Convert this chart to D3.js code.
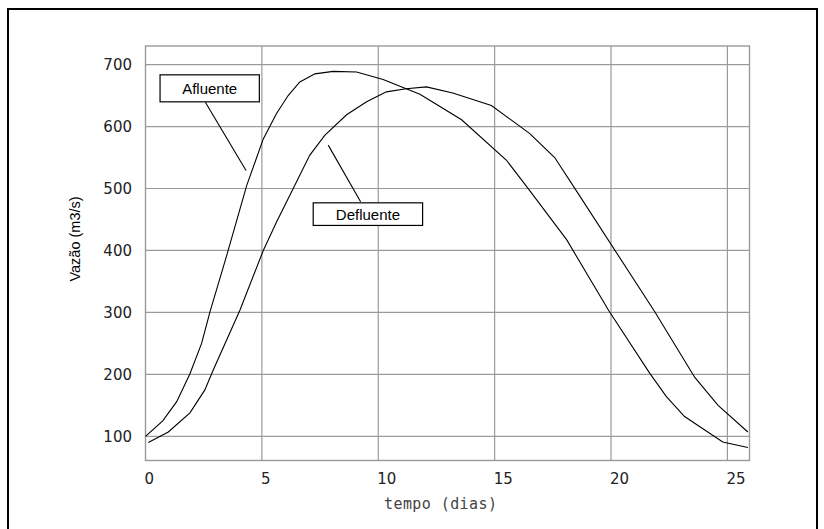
<!DOCTYPE html>
<html lang="pt">
<head>
<meta charset="UTF-8">
<title>Vazão afluente e defluente</title>
<script src="https://d3js.org/d3.v7.min.js"></script>
<style>
  body { margin: 0; background: #fff; }
  .tick-label { font-family: "DejaVu Sans ExtraLight", "DejaVu Sans", sans-serif; font-size: 15px; fill: #222; }
  .axis-title { font-family: "DejaVu Sans Mono", monospace; font-size: 15px; fill: #444; }
  .y-title { font-family: "Liberation Sans", Arial, sans-serif; font-size: 14.5px; fill: #000; }
  .tag { font-family: "Liberation Sans", Arial, sans-serif; font-size: 15px; fill: #000; }
</style>
</head>
<body>
<svg id="chart"></svg>
<script>
// dados (tempo em dias, vazão em m3/s)
var tempoAfluente = [0, 0.74, 1.34, 1.91, 2.41, 2.77, 3.49, 4.35, 5.06, 5.63, 6.13, 6.63, 7.28, 8.06, 9.07, 10.21, 11.2, 11.79, 13.58, 15.5, 16.5, 18.1, 19.9, 21.66, 22.38, 23.16, 24.8, 25.88];
var vazaoAfluente = [100, 125, 156, 201, 250, 301, 392, 505, 580, 621, 650, 672, 685, 689, 688, 676, 661, 652, 611, 546, 497, 417, 303, 202, 164, 132, 91, 82];

var tempoDefluente = [0.12, 0.98, 1.91, 2.55, 2.91, 4.06, 5.06, 5.63, 6.49, 7.06, 7.71, 8.64, 9.5, 10.35, 11.2, 12.07, 13.2, 14.86, 16.5, 17.58, 18.5, 21.88, 23.6, 24.6, 25.88];
var vazaoDefluente = [90, 107, 138, 175, 207, 304, 400, 446, 511, 554, 586, 619, 640, 656, 661, 664, 654, 634, 589, 550, 497, 301, 195, 150, 107];

var xTicks = [0, 5, 10, 15, 20, 25];
var yTicks = [100, 200, 300, 400, 500, 600, 700];

var W = 824, H = 529;
var svg = d3.select("#chart").attr("width", W).attr("height", H);

// moldura externa (a borda de baixo fica fora da imagem)
svg.append("rect")
  .attr("x", 8).attr("y", 9)
  .attr("width", 809).attr("height", 530)
  .attr("fill", "none").attr("stroke", "#000").attr("stroke-width", 2);

var x = d3.scaleLinear().domain([0, 25.95]).range([145.5, 749.5]);
var y = d3.scaleLinear().domain([61, 730]).range([460.5, 46]);

var gridColor = "#9a9a9a";

// grade
svg.selectAll("line.vgrid")
  .data(xTicks.filter(d => d > 0))
  .enter().append("line")
  .attr("x1", d => x(d)).attr("x2", d => x(d))
  .attr("y1", y.range()[1]).attr("y2", y.range()[0])
  .attr("stroke", gridColor).attr("stroke-width", 1.2);

svg.selectAll("line.hgrid")
  .data(yTicks)
  .enter().append("line")
  .attr("x1", x.range()[0]).attr("x2", x.range()[1])
  .attr("y1", d => y(d)).attr("y2", d => y(d))
  .attr("stroke", gridColor).attr("stroke-width", 1.2);

svg.append("rect")
  .attr("x", x.range()[0]).attr("y", y.range()[1])
  .attr("width", x.range()[1] - x.range()[0])
  .attr("height", y.range()[0] - y.range()[1])
  .attr("fill", "none").attr("stroke", gridColor).attr("stroke-width", 1.4);

// rótulos dos eixos
svg.selectAll("text.ylab")
  .data(yTicks)
  .enter().append("text")
  .attr("class", "tick-label")
  .attr("x", 132).attr("y", d => y(d))
  .attr("dy", "0.36em")
  .attr("text-anchor", "end")
  .text(d => d);

svg.selectAll("text.xlab")
  .data(xTicks)
  .enter().append("text")
  .attr("class", "tick-label")
  .attr("x", d => x(d) - 1).attr("y", 484)
  .text(d => d);

svg.append("text")
  .attr("class", "axis-title")
  .attr("x", 384).attr("y", 509)
  .attr("textLength", 113)
  .text("tempo (dias)");

svg.append("text")
  .attr("class", "y-title")
  .attr("transform", "translate(80,239) rotate(-90)")
  .attr("text-anchor", "middle")
  .text("Vazão (m3/s)");

// curvas
var line = d3.line().x(d => x(d[0])).y(d => y(d[1]));

var series = [
  { nome: "Afluente", pts: d3.zip(tempoAfluente, vazaoAfluente) },
  { nome: "Defluente", pts: d3.zip(tempoDefluente, vazaoDefluente) }
];

svg.selectAll("path.curva")
  .data(series)
  .enter().append("path")
  .attr("d", d => line(d.pts))
  .attr("fill", "none").attr("stroke", "#000").attr("stroke-width", 1.1);

// etiquetas com linha de chamada (ponta em coordenadas de dados, caixa em pixels relativos)
var tags = [
  { nome: "Afluente", t: 4.32, v: 529, box: [-86, -95.7, 99.3, 27], from: [-40.7, -68.3] },
  { nome: "Defluente", t: 7.85, v: 570, box: [-15, 57.7, 109.4, 22.6], from: [32.4, 56.7] }
];

tags.forEach(function (tg) {
  var px = x(tg.t), py = y(tg.v);
  svg.append("line")
    .attr("x1", px).attr("y1", py)
    .attr("x2", px + tg.from[0]).attr("y2", py + tg.from[1])
    .attr("stroke", "#000").attr("stroke-width", 1.1);
  svg.append("rect")
    .attr("x", px + tg.box[0]).attr("y", py + tg.box[1])
    .attr("width", tg.box[2]).attr("height", tg.box[3])
    .attr("fill", "#fff").attr("stroke", "#000").attr("stroke-width", 1.2);
  svg.append("text")
    .attr("class", "tag")
    .attr("x", px + tg.box[0] + tg.box[2] / 2)
    .attr("y", py + tg.box[1] + tg.box[3] / 2)
    .attr("dy", "0.36em")
    .attr("text-anchor", "middle")
    .text(tg.nome);
});
</script>
</body>
</html>
